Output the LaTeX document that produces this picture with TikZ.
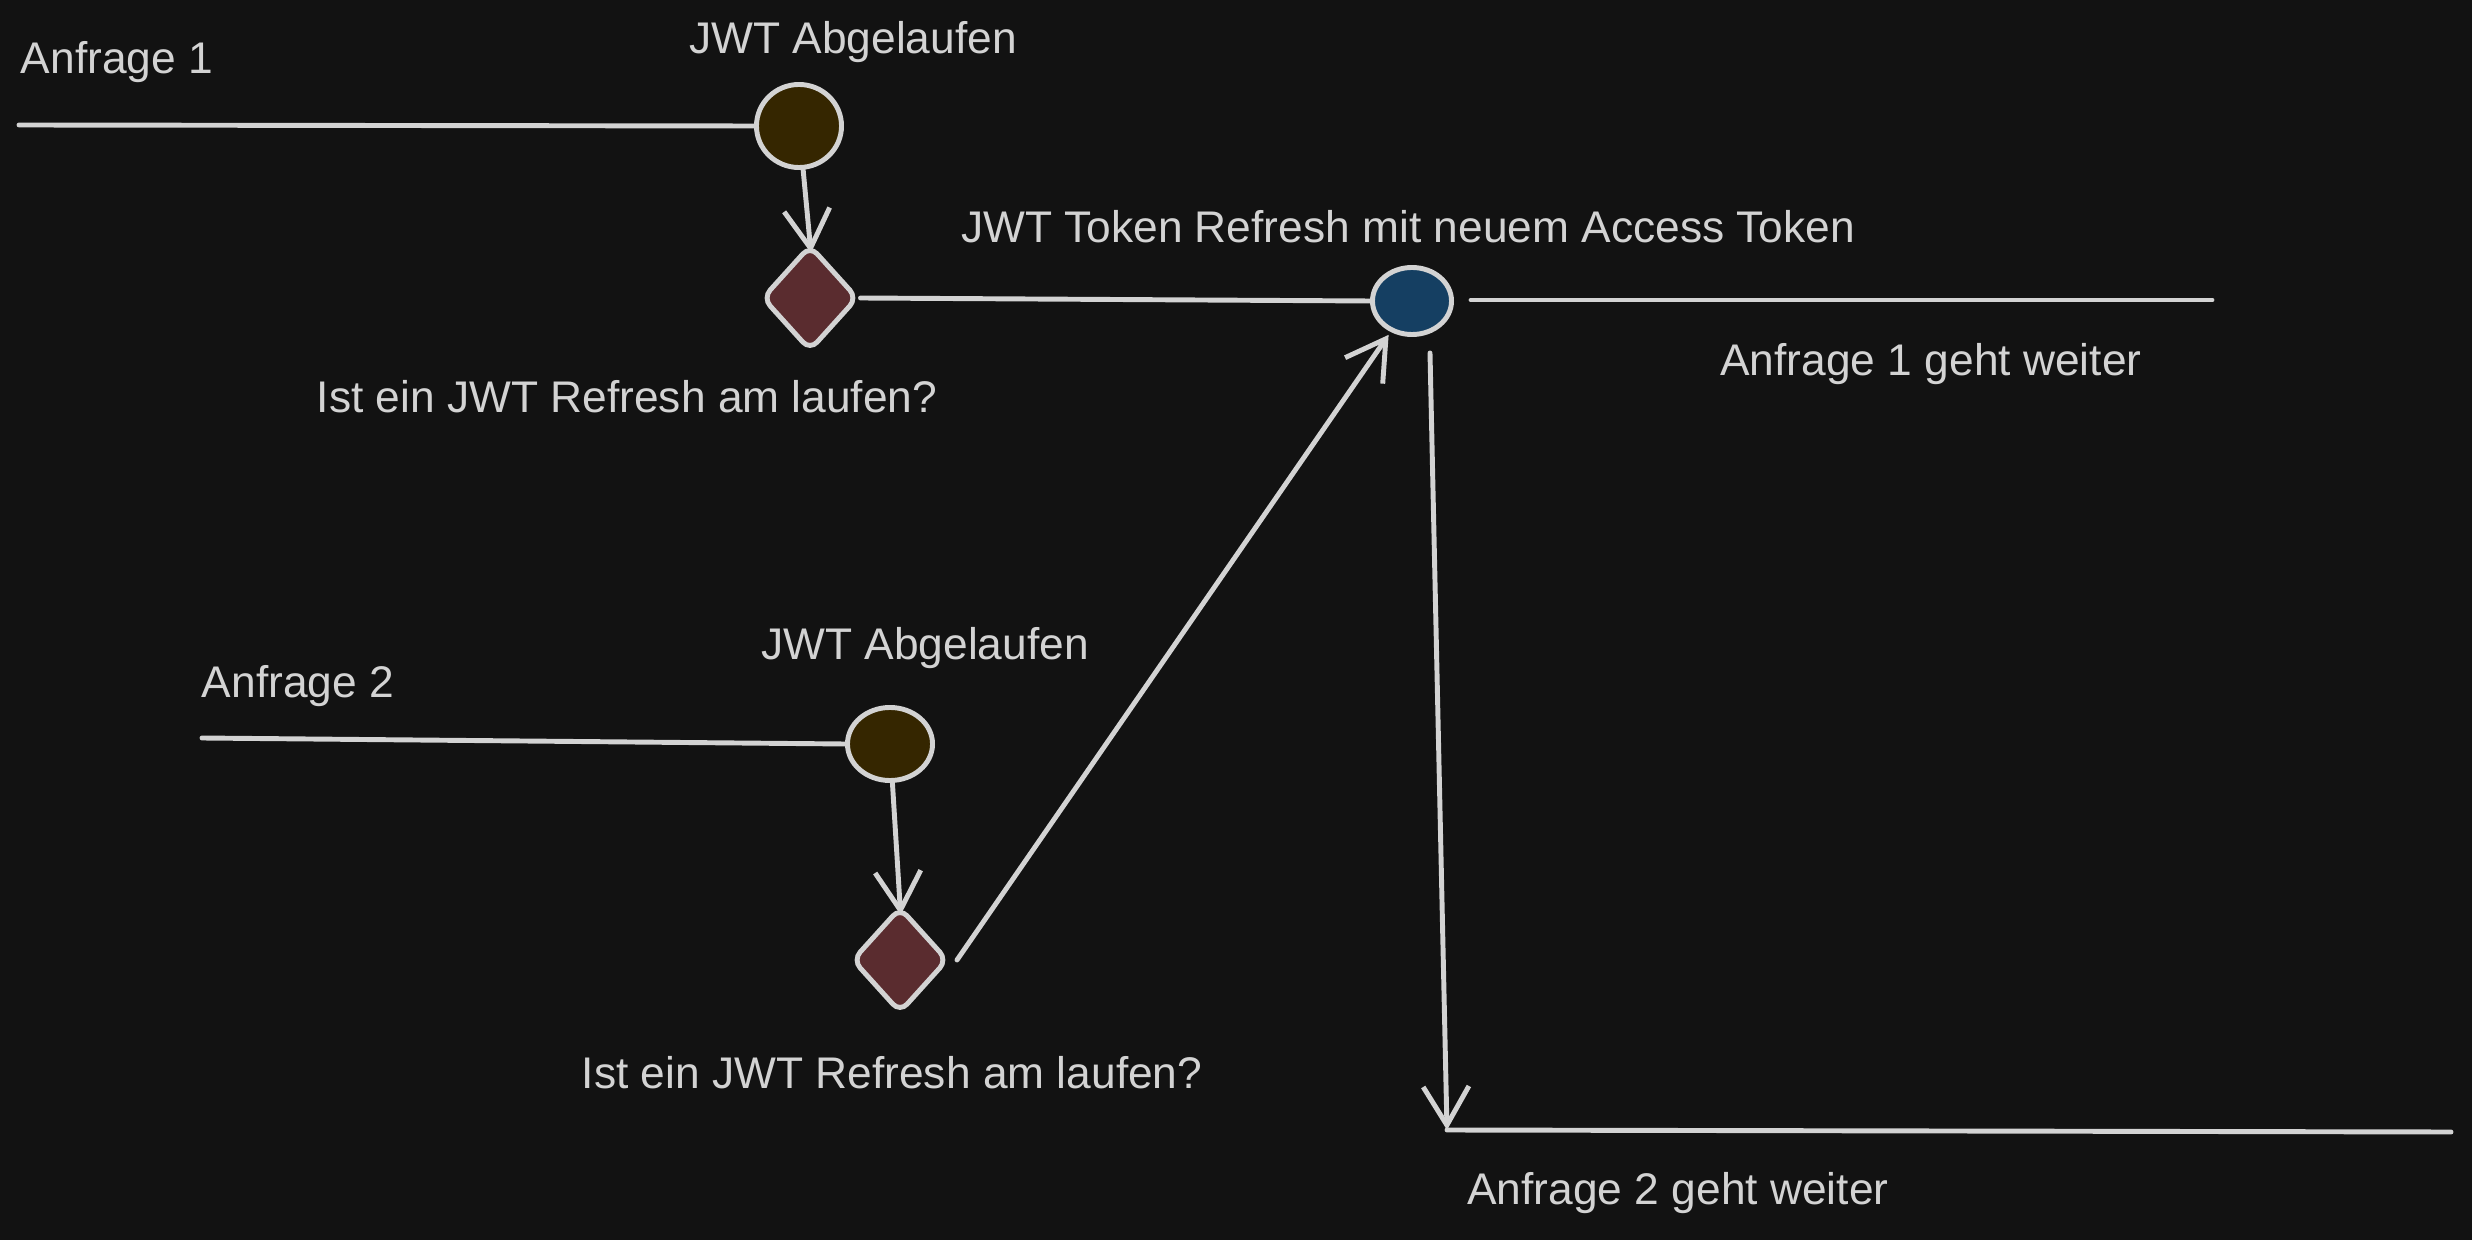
\documentclass[tikz,border=0pt]{standalone}
\usepackage{fontspec}
\setmainfont{Liberation Sans}
\usetikzlibrary{shapes.geometric,arrows.meta}
\definecolor{bg}{HTML}{121212}
\definecolor{ink}{HTML}{D3D3D3}
\definecolor{brownfill}{HTML}{352600}
\definecolor{redfill}{HTML}{5A2C2F}
\definecolor{bluefill}{HTML}{153F62}
\tikzset{
  px/.style={x=0.01cm,y=-0.01cm},
  ln/.style={draw=ink,line width=1.4pt,line cap=round},
  arr/.style={ln,-{Straight Barb[length=11pt,width=13pt,line width=1.4pt]}},
  lbl/.style={text=ink,font=\fontsize{12.6}{15}\selectfont,inner sep=0pt},
  evt/.style={ellipse,draw=ink,line width=1.4pt,inner sep=0pt},
  gate/.style={diamond,draw=ink,line width=1.4pt,fill=redfill,inner sep=0pt,rounded corners=3pt},
}
\begin{document}
\begin{tikzpicture}[px]
\fill[bg] (0,0) rectangle (2472,1240);
\useasboundingbox (0,0) rectangle (2472,1240);
% nodes
\node[evt,fill=brownfill,minimum width=0.85cm,minimum height=0.83cm] (c1) at (799,126) {};
\node[gate,minimum width=0.96cm,minimum height=1.06cm] (d1) at (810,298) {};
\node[evt,fill=bluefill,minimum width=0.79cm,minimum height=0.67cm] (b) at (1412,301) {};
\node[evt,fill=brownfill,minimum width=0.85cm,minimum height=0.73cm] (c2) at (890,744) {};
\node[gate,minimum width=0.96cm,minimum height=1.06cm] (d2) at (900,960) {};
% free ends
\coordinate (s1) at (19,125);
\coordinate (s2) at (202,738);
\coordinate (o1a) at (1471,300);
\coordinate (o1b) at (2212,300);
\coordinate (g2) at (957,960);
\coordinate (v1) at (1430,353);
\coordinate (v2) at (1447,1130);
\coordinate (o2) at (2451,1132);
% connectors
\draw[ln] (s1) -- (c1.west);
\draw[arr,shorten >=-3pt] (c1) -- (d1.north);
\draw[ln] (d1.east) -- (b.west);
\draw[ln] (o1a) -- (o1b);
\draw[ln] (s2) -- (c2.west);
\draw[arr,shorten >=-3pt] (c2) -- (d2.north);
\draw[arr,shorten >=1pt] (g2) -- (b);
\draw[arr] (v1) -- (v2);
\draw[ln] (v2) -- (o2);
% labels
\node[lbl] (t1) at (117,62) {Anfrage 1};
\node[lbl] (t2) at (853,42) {JWT Abgelaufen};
\node[lbl] (t3) at (1408,227) {JWT Token Refresh mit neuem Access Token};
\node[lbl] (t4) at (627,397) {Ist ein JWT Refresh am laufen?};
\node[lbl] (t5) at (1931,364) {Anfrage 1 geht weiter};
\node[lbl] (t6) at (298,686) {Anfrage 2};
\node[lbl] (t7) at (925,648) {JWT Abgelaufen};
\node[lbl] (t8) at (892,1073) {Ist ein JWT Refresh am laufen?};
\node[lbl] (t9) at (1678,1193) {Anfrage 2 geht weiter};
\end{tikzpicture}
\end{document}
